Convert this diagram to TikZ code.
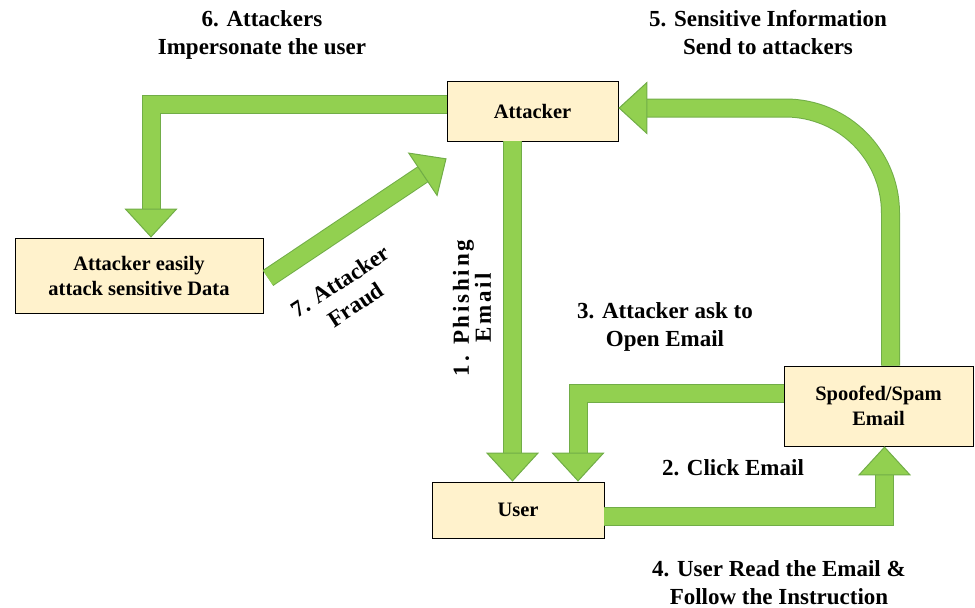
\documentclass[tikz,border=0pt]{standalone}
\usepackage{fontspec}
\setmainfont{Liberation Serif}
\usetikzlibrary{positioning,arrows.meta}

\definecolor{arrowfill}{HTML}{92D050}
\definecolor{arrowedge}{HTML}{71AD47}
\definecolor{boxfill}{HTML}{FFF2CC}

\tikzset{
	box/.style={draw=black, line width=0.8pt, fill=boxfill, align=center,
		font=\fontsize{20.5}{25}\selectfont\bfseries},
	lbl/.style={align=center, font=\fontsize{23}{28}\selectfont\bfseries},
	fat/.style={line width=17pt, draw=arrowfill,
		-{Triangle[length=29pt, width=53pt, line width=1pt, color=arrowedge, fill=arrowfill]},
		preaction={draw=arrowedge, line width=19pt, arrows=-, shorten >=27pt}},
}

\begin{document}
\begin{tikzpicture}[x=1pt, y=-1pt]
	\useasboundingbox (0,0) rectangle (975,608);
	% boxes
	\node [box, minimum width=171pt, minimum height=60pt] (Att) at (532.5,111) {Attacker};
	\node [box, minimum width=248pt, minimum height=75pt] (Easy) at (139,275.5) {Attacker easily\\attack sensitive Data};
	\node [box, minimum width=172pt, minimum height=56pt] (User) at (518,510) {User};
	\node [box, minimum width=189pt, minimum height=80pt] (Spoof) at (878.5,406) {Spoofed/Spam\\Email};
	\coordinate (Fraud) at (268,278);
	% arrows
	\draw [fat] ([yshift=6.5pt]Att.west) -| ([xshift=12pt]Easy.north);
	\draw [fat] ([xshift=-20pt]Att.south) -- ([xshift=-20pt]Att.south |- User.north);
	\draw [fat] ([yshift=12.5pt]Spoof.west) -| ([xshift=60pt]User.north);
	\draw [fat] ([yshift=-6.5pt]User.east) -| ([xshift=6pt]Spoof.south);
	\draw [fat, rounded corners=105pt] ([xshift=12pt]Spoof.north) |- ([yshift=3pt]Att.east);
	\draw [fat] (Fraud) -- ([yshift=-17pt]Att.south west);
	% labels
	\node [lbl] (L6) at (262,35) {6. Attackers\\Impersonate the user};
	\node [lbl] (L5) at (768,33) {5. Sensitive Information\\Send to attackers};
	\node [lbl, rotate=33] (L7) at (348,293) {7. Attacker\\Fraud};
	\node [lbl, rotate=90, font=\fontsize{23}{20}\selectfont\bfseries\addfontfeature{LetterSpace=12}] (L1) at (472,308) {1. Phishing\\Email};
	\node [lbl] (L3) at (665,327) {3. Attacker ask to\\Open Email};
	\node [lbl] (L2) at (733,468) {2. Click Email};
	\node [lbl] (L4) at (779,583) {4. User Read the Email \&\\Follow the Instruction};
\end{tikzpicture}
\end{document}
